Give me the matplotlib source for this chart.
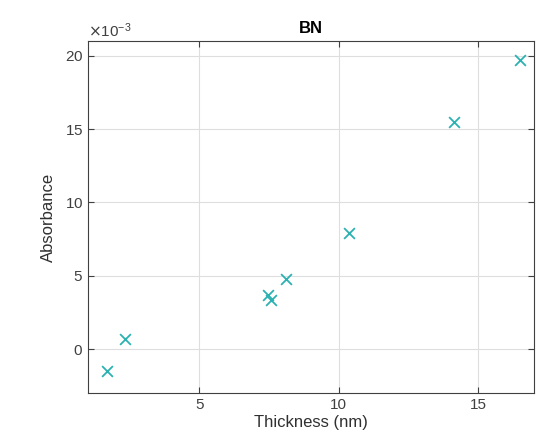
import numpy as np
import matplotlib.pyplot as plt
from matplotlib.ticker import ScalarFormatter

# BN absorbance vs flake thickness
thickness = [1.67, 2.33, 7.47, 7.58, 8.12, 10.38, 14.13, 16.51]
absorbance = [-0.00148, 0.00068, 0.00367, 0.00333, 0.00476, 0.00794, 0.01549, 0.01971]

plt.rcParams['font.family'] = ['Liberation Sans', 'DejaVu Sans']

fig = plt.figure(figsize=(5.44, 4.43), dpi=100)
ax = fig.add_axes([0.1618, 0.1129, 0.8192, 0.7939])

ax.scatter(thickness, absorbance, marker='x', s=60, color='#2cb1b1', linewidths=1.3, zorder=3)

ax.set_xlim(1, 17)
ax.set_ylim(-0.003, 0.021)
ax.set_xticks([5, 10, 15])
ax.set_yticks([0, 0.005, 0.01, 0.015, 0.02])

# fixed x10^-3 multiplier like the original
fmt = ScalarFormatter(useMathText=True)
fmt.set_powerlimits((-3, -3))
ax.yaxis.set_major_formatter(fmt)
ax.yaxis.get_offset_text().set_fontsize(11)
ax.yaxis.get_offset_text().set_color('#404040')

ax.grid(True, color='#dedede', linewidth=0.8)
ax.set_axisbelow(True)
ax.tick_params(direction='in', top=True, right=True, labelsize=11, colors='#404040', length=4)
for sp in ax.spines.values():
    sp.set_color('#404040')
    sp.set_linewidth(0.8)

ax.set_title('BN', fontsize=12, fontweight='bold', pad=6)
ax.set_xlabel('Thickness (nm)', fontsize=12, color='#303030', labelpad=2)
ax.set_ylabel('Absorbance', fontsize=12, color='#303030', labelpad=6)

fig.savefig('out.png', dpi=100)
